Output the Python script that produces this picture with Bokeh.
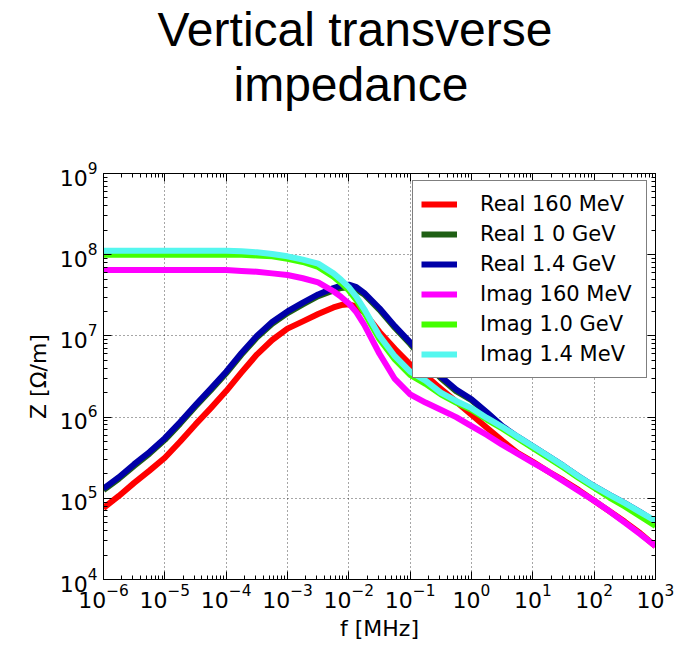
from bokeh.plotting import figure
from bokeh.models import (Range1d, FixedTicker, LogTickFormatter, LogAxis, Title,
                          Legend, LegendItem, ColumnDataSource)
from bokeh.embed import file_html
from bokeh.resources import INLINE

# ---- data ----
freq_mhz = [1e-6, 1.78e-6, 3.16e-6, 5.62e-6, 1e-5, 1.78e-5, 3.16e-5, 5.62e-5,
            1e-4, 1.78e-4, 3.16e-4, 5.62e-4, 1e-3, 1.78e-3, 3.16e-3, 5.62e-3,
            7.5e-3, 1e-2, 1.33e-2, 1.78e-2, 3.16e-2, 5.62e-2, 0.1, 0.178,
            0.316, 0.562, 1.0, 1.78, 3.16, 5.62, 10.0, 17.8, 31.6, 56.2,
            100.0, 178.0, 316.0, 562.0, 1000.0]

real_160mev = [7.59e4, 1.07e5, 1.55e5, 2.19e5, 3.16e5, 5.01e5, 8.13e5, 1.29e6,
               2.09e6, 3.55e6, 5.89e6, 8.91e6, 1.23e7, 1.51e7, 1.86e7, 2.24e7,
               2.40e7, 2.45e7, 2.29e7, 1.95e7, 1.12e7, 6.92e6, 4.47e6, 3.24e6,
               2.24e6, 1.55e6, 1.07e6, 7.41e5, 5.13e5, 3.63e5, 2.82e5, 2.14e5,
               1.66e5, 1.26e5, 9.33e4, 6.92e4, 5.13e4, 3.72e4, 2.57e4]
real_1p0gev = [1.26e5, 1.74e5, 2.51e5, 3.55e5, 5.25e5, 8.32e5, 1.35e6, 2.14e6,
               3.47e6, 5.89e6, 9.55e6, 1.41e7, 1.91e7, 2.45e7, 3.09e7, 3.63e7,
               3.89e7, 3.98e7, 3.72e7, 3.24e7, 2.09e7, 1.26e7, 7.94e6, 4.79e6,
               3.02e6, 2.09e6, 1.62e6, 1.12e6, 7.59e5, 5.62e5, 4.27e5, 3.24e5,
               2.45e5, 1.82e5, 1.38e5, 1.07e5, 8.51e4, 6.61e4, 5.01e4]
real_1p4gev = [1.32e5, 1.82e5, 2.63e5, 3.72e5, 5.50e5, 8.71e5, 1.41e6, 2.24e6,
               3.63e6, 6.17e6, 1.00e7, 1.48e7, 2.00e7, 2.57e7, 3.24e7, 3.89e7,
               4.17e7, 4.27e7, 3.98e7, 3.39e7, 2.19e7, 1.32e7, 8.32e6, 5.01e6,
               3.16e6, 2.19e6, 1.66e6, 1.15e6, 7.76e5, 5.75e5, 4.37e5, 3.31e5,
               2.51e5, 1.86e5, 1.41e5, 1.10e5, 8.71e4, 6.76e4, 5.13e4]
imag_160mev = [6.46e7, 6.46e7, 6.46e7, 6.46e7, 6.46e7, 6.46e7, 6.46e7, 6.46e7,
               6.46e7, 6.31e7, 6.17e7, 5.89e7, 5.62e7, 5.13e7, 4.57e7, 3.55e7,
               3.02e7, 2.51e7, 1.95e7, 1.38e7, 6.03e6, 2.95e6, 1.91e6, 1.51e6,
               1.23e6, 1.00e6, 7.76e5, 6.03e5, 4.57e5, 3.55e5, 2.75e5, 2.14e5,
               1.62e5, 1.23e5, 9.33e4, 6.92e4, 5.01e4, 3.63e4, 2.57e4]
imag_1p0gev = [1.00e8, 1.00e8, 1.00e8, 1.00e8, 1.00e8, 1.00e8, 1.00e8, 1.00e8,
               1.00e8, 1.00e8, 9.77e7, 9.55e7, 8.91e7, 8.13e7, 7.08e7, 5.37e7,
               4.47e7, 3.63e7, 2.75e7, 1.95e7, 9.12e6, 5.13e6, 3.31e6, 2.57e6,
               1.91e6, 1.51e6, 1.23e6, 9.33e5, 7.24e5, 5.50e5, 4.17e5, 3.16e5,
               2.40e5, 1.78e5, 1.35e5, 1.02e5, 7.94e4, 6.03e4, 4.57e4]
imag_1p4mev = [1.12e8, 1.12e8, 1.12e8, 1.12e8, 1.12e8, 1.12e8, 1.12e8, 1.12e8,
               1.12e8, 1.10e8, 1.07e8, 1.02e8, 9.55e7, 8.71e7, 7.76e7, 5.89e7,
               4.90e7, 3.98e7, 3.02e7, 2.14e7, 1.00e7, 5.62e6, 3.63e6, 2.82e6,
               2.00e6, 1.58e6, 1.29e6, 9.77e5, 7.59e5, 5.75e5, 4.37e5, 3.31e5,
               2.51e5, 1.86e5, 1.41e5, 1.10e5, 8.71e4, 6.76e4, 5.25e4]

series_labels = ["Real 160 MeV", "Real 1 0 GeV", "Real 1.4 GeV",
                 "Imag 160 MeV", "Imag 1.0 GeV", "Imag 1.4 MeV"]
series_values = [real_160mev, real_1p0gev, real_1p4gev, imag_160mev, imag_1p0gev, imag_1p4mev]
series_colors = ["#ff0000", "#1f5f14", "#0000a8", "#ff00ff", "#44ff00", "#55f7ef"]

title_lines = ["Vertical transverse", "impedance"]

x_major = [1e-6, 1e-5, 1e-4, 1e-3, 1e-2, 1e-1, 1e0, 1e1, 1e2, 1e3]
y_major = [1e4, 1e5, 1e6, 1e7, 1e8, 1e9]

x_minor = [m * d for d in x_major[:-1] for m in range(2, 10)]
y_minor = [m * d for d in y_major[:-1] for m in range(2, 10)]

TICK_FONT = "DejaVu Sans"

p = figure(width=682, height=645, x_axis_type="log", y_axis_type="log",
           x_range=Range1d(1e-6, 1e3), y_range=Range1d(1e4, 1e9),
           output_backend="svg", toolbar_location=None,
           min_border_left=103, min_border_right=27, min_border_top=0,
           min_border_bottom=66)
p.background_fill_color = "white"
p.border_fill_color = "white"
p.outline_line_color = "black"
p.outline_line_width = 1

def style_axis(ax, ticks, minor, show_labels=True):
    ax.ticker = FixedTicker(ticks=ticks, minor_ticks=minor)
    ax.axis_line_color = "black"
    ax.major_tick_in = 8
    ax.major_tick_out = 0
    ax.minor_tick_in = 4
    ax.minor_tick_out = 0
    ax.major_tick_line_color = "black"
    ax.minor_tick_line_color = "black"
    if show_labels:
        ax.formatter = LogTickFormatter()
        ax.major_label_text_font = TICK_FONT
        ax.major_label_text_font_size = "22px"
        ax.major_label_text_color = "black"
        ax.axis_label_text_font = TICK_FONT
        ax.axis_label_text_font_size = "22px"
        ax.axis_label_text_font_style = "normal"
        ax.axis_label_text_color = "black"
    else:
        ax.major_label_text_font_size = "1px"
        ax.major_label_text_alpha = 0
        ax.major_label_standoff = 0

xa = p.xaxis[0]
ya = p.yaxis[0]
style_axis(xa, x_major, x_minor)
style_axis(ya, y_major, y_minor)
xa.axis_label = "f [MHz]"
ya.axis_label = "Z [\u03a9/m]"
xa.major_label_standoff = 4
xa.axis_label_standoff = 5
ya.major_label_standoff = 6
ya.axis_label_standoff = 6

top_ax = LogAxis()
style_axis(top_ax, x_major, x_minor, show_labels=False)
# a blank axis label whose standoff keeps the gap between the title and the frame
top_ax.axis_label = " "
top_ax.axis_label_text_font_size = "1px"
top_ax.axis_label_text_color = "white"
top_ax.axis_label_standoff = 59
right_ax = LogAxis()
style_axis(right_ax, y_major, y_minor, show_labels=False)
p.add_layout(right_ax, "right")
p.add_layout(top_ax, "above")

p.xgrid.ticker = FixedTicker(ticks=x_major)
p.ygrid.ticker = FixedTicker(ticks=y_major)
p.grid.grid_line_color = "black"
p.grid.grid_line_alpha = 0.7
p.grid.grid_line_dash = "1 3"
p.grid.grid_line_width = 1

items = []
for lab, vals, col in zip(series_labels, series_values, series_colors):
    src = ColumnDataSource(dict(f=freq_mhz, z=vals))
    r = p.line("f", "z", source=src, line_color=col, line_width=6, line_join="round")
    items.append(LegendItem(label=lab, renderers=[r]))

legend = Legend(items=items, location=(309, 201))
legend.label_text_font = TICK_FONT
legend.label_text_font_size = "21px"
legend.label_text_color = "black"
legend.glyph_width = 36
legend.glyph_height = 30
legend.label_height = 30
legend.label_width = 158
legend.label_standoff = 23
legend.padding = 8
legend.spacing = 0
legend.margin = 0
legend.border_line_color = "black"
legend.border_line_width = 1
legend.background_fill_alpha = 1.0
p.add_layout(legend, "center")

t2 = Title(text=title_lines[1], align="left", offset=130, text_font="Liberation Sans",
           text_font_size="48px", text_font_style="normal", text_color="black",
           standoff=0)
t1 = Title(text=title_lines[0], align="left", offset=54, text_font="Liberation Sans",
           text_font_size="48px", text_font_style="normal", text_color="black",
           standoff=0)
p.add_layout(t2, "above")
p.add_layout(t1, "above")

open("out.html", "w").write(file_html(p, INLINE))
